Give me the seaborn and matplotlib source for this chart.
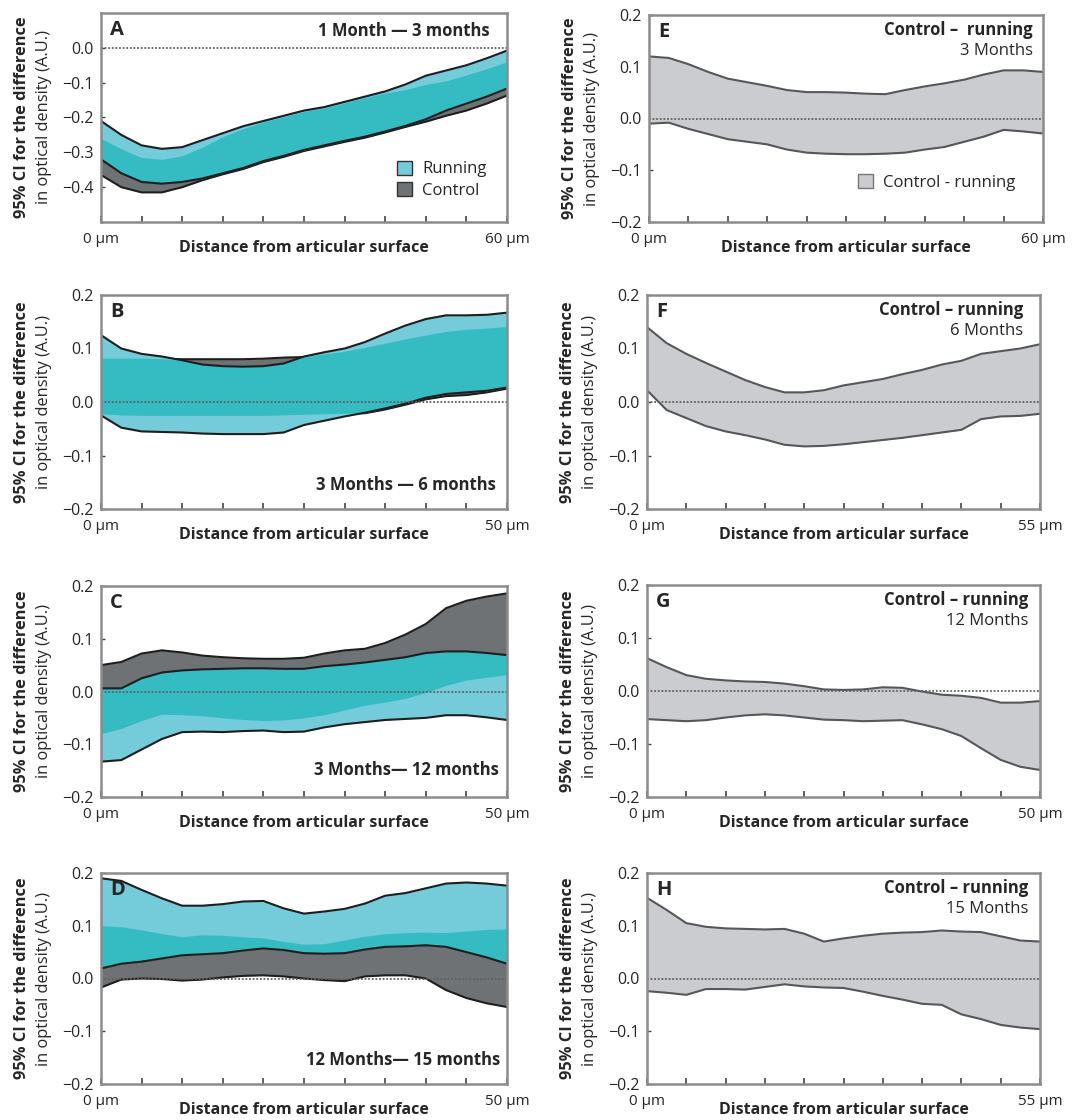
import numpy as np
import matplotlib.pyplot as plt
from matplotlib.patches import Patch
from matplotlib.transforms import offset_copy
import seaborn as sns

# 21 readings along each profile, from the articular surface (0) to the deepest point
n_pts = 21

# ---- Panels A-D: 95% CI bands, running vs control ----
depth_a, depth_b, depth_c, depth_d = 60, 50, 50, 50

run_hi_a = [-0.21, -0.25, -0.28, -0.29, -0.285, -0.265, -0.245, -0.225, -0.21, -0.195, -0.18,
            -0.17, -0.155, -0.14, -0.125, -0.105, -0.08, -0.065, -0.05, -0.03, -0.008]
run_lo_a = [-0.32, -0.36, -0.385, -0.39, -0.385, -0.375, -0.36, -0.345, -0.325, -0.31, -0.293,
            -0.28, -0.267, -0.255, -0.24, -0.224, -0.205, -0.18, -0.16, -0.14, -0.117]
ctl_hi_a = [-0.26, -0.29, -0.315, -0.32, -0.31, -0.285, -0.255, -0.232, -0.213, -0.198, -0.183,
            -0.173, -0.158, -0.143, -0.13, -0.12, -0.105, -0.095, -0.078, -0.06, -0.04]
ctl_lo_a = [-0.365, -0.40, -0.415, -0.415, -0.40, -0.38, -0.363, -0.348, -0.328, -0.313, -0.296,
            -0.283, -0.27, -0.258, -0.243, -0.227, -0.212, -0.195, -0.18, -0.16, -0.137]

run_hi_b = [0.125, 0.10, 0.09, 0.085, 0.078, 0.07, 0.067, 0.066, 0.067, 0.072, 0.085,
            0.093, 0.10, 0.112, 0.128, 0.143, 0.155, 0.162, 0.162, 0.163, 0.167]
run_lo_b = [-0.025, -0.048, -0.055, -0.056, -0.057, -0.059, -0.06, -0.06, -0.06, -0.057, -0.043,
            -0.035, -0.027, -0.02, -0.012, -0.003, 0.008, 0.015, 0.018, 0.021, 0.027]
ctl_hi_b = [0.082, 0.082, 0.082, 0.081, 0.080, 0.080, 0.080, 0.080, 0.081, 0.083, 0.084,
            0.090, 0.095, 0.102, 0.110, 0.118, 0.125, 0.132, 0.136, 0.138, 0.141]
ctl_lo_b = [-0.022, -0.024, -0.025, -0.025, -0.025, -0.025, -0.025, -0.025, -0.025, -0.024, -0.023,
            -0.022, -0.021, -0.021, -0.014, -0.005, 0.005, 0.011, 0.013, 0.018, 0.025]

run_hi_c = [0.006, 0.006, 0.025, 0.036, 0.040, 0.042, 0.043, 0.044, 0.044, 0.043, 0.043,
            0.048, 0.051, 0.055, 0.060, 0.065, 0.073, 0.076, 0.076, 0.073, 0.069]
run_lo_c = [-0.133, -0.13, -0.11, -0.09, -0.077, -0.076, -0.077, -0.075, -0.074, -0.077, -0.076,
            -0.068, -0.062, -0.058, -0.054, -0.052, -0.05, -0.045, -0.045, -0.049, -0.054]
ctl_hi_c = [0.05, 0.056, 0.072, 0.078, 0.074, 0.068, 0.065, 0.063, 0.062, 0.062, 0.064,
            0.072, 0.078, 0.081, 0.092, 0.108, 0.128, 0.158, 0.172, 0.180, 0.186]
ctl_lo_c = [-0.08, -0.07, -0.055, -0.043, -0.044, -0.046, -0.05, -0.053, -0.055, -0.054, -0.05,
            -0.044, -0.035, -0.026, -0.02, -0.013, -0.002, 0.012, 0.022, 0.027, 0.032]

run_hi_d = [0.19, 0.185, 0.168, 0.152, 0.138, 0.138, 0.141, 0.146, 0.147, 0.133, 0.123,
            0.127, 0.132, 0.142, 0.157, 0.162, 0.171, 0.18, 0.182, 0.18, 0.176]
run_lo_d = [0.019, 0.028, 0.032, 0.038, 0.044, 0.046, 0.048, 0.053, 0.057, 0.054, 0.048,
            0.047, 0.048, 0.055, 0.06, 0.061, 0.063, 0.06, 0.05, 0.04, 0.028]
ctl_hi_d = [0.10, 0.098, 0.092, 0.085, 0.079, 0.083, 0.082, 0.079, 0.077, 0.07, 0.065,
            0.066, 0.073, 0.08, 0.085, 0.087, 0.088, 0.087, 0.09, 0.093, 0.094]
ctl_lo_d = [-0.017, -0.002, 0.0, -0.001, -0.004, -0.002, 0.002, 0.005, 0.006, 0.004, 0.0,
            -0.003, -0.005, 0.004, 0.006, 0.006, 0.0, -0.022, -0.037, -0.047, -0.054]

# ---- Panels E-H: control - running, 95% CI ----
depth_e, depth_f, depth_g, depth_h = 60, 55, 50, 55

diff_hi_e = [0.12, 0.117, 0.105, 0.09, 0.077, 0.07, 0.063, 0.055, 0.051, 0.051, 0.05,
             0.048, 0.047, 0.055, 0.062, 0.068, 0.075, 0.085, 0.093, 0.093, 0.09]
diff_lo_e = [-0.01, -0.008, -0.02, -0.03, -0.04, -0.045, -0.05, -0.06, -0.066, -0.068, -0.069,
             -0.069, -0.068, -0.066, -0.06, -0.055, -0.045, -0.035, -0.022, -0.025, -0.029]

diff_hi_f = [0.14, 0.11, 0.09, 0.073, 0.057, 0.041, 0.028, 0.018, 0.018, 0.022, 0.031,
             0.037, 0.043, 0.052, 0.06, 0.07, 0.077, 0.09, 0.095, 0.10, 0.108]
diff_lo_f = [0.022, -0.015, -0.03, -0.045, -0.055, -0.062, -0.07, -0.08, -0.083, -0.082, -0.079,
             -0.075, -0.071, -0.067, -0.062, -0.057, -0.052, -0.032, -0.027, -0.026, -0.022]

diff_hi_g = [0.062, 0.045, 0.03, 0.023, 0.02, 0.018, 0.017, 0.014, 0.009, 0.003, 0.002,
             0.003, 0.007, 0.006, -0.001, -0.007, -0.009, -0.013, -0.022, -0.022, -0.019]
diff_lo_g = [-0.053, -0.055, -0.057, -0.055, -0.05, -0.046, -0.044, -0.046, -0.05, -0.054, -0.055,
             -0.057, -0.056, -0.055, -0.063, -0.072, -0.085, -0.108, -0.13, -0.143, -0.149]

diff_hi_h = [0.153, 0.13, 0.105, 0.098, 0.095, 0.094, 0.093, 0.094, 0.085, 0.07, 0.076,
             0.081, 0.085, 0.087, 0.088, 0.091, 0.089, 0.088, 0.08, 0.072, 0.07]
diff_lo_h = [-0.024, -0.027, -0.031, -0.02, -0.02, -0.021, -0.016, -0.011, -0.015, -0.017, -0.018,
             -0.025, -0.033, -0.04, -0.048, -0.05, -0.068, -0.077, -0.088, -0.093, -0.096]

CYAN = "#74cbd9"
TEAL = "#35bcc3"
DARK = "#6e7275"
LIGHT = "#cbcccf"
EDGE_BLACK = "#1e1e1e"
EDGE_GRAY = "#55585b"

sns.set_theme(style="white")
plt.rcParams["font.family"] = ["Open Sans", "DejaVu Sans"]

fig = plt.figure(figsize=(10.76, 11.2), dpi=100)
W, H = 1076, 1120


def make_axes(left, right, top, bottom):
    return fig.add_axes([left / W, 1 - bottom / H, (right - left) / W, (bottom - top) / H])


def shift(ax, dx, dy):
    return offset_copy(ax.transAxes, fig=fig, x=dx, y=dy, units="dots")


def draw_pair(ax, x, run_hi, run_lo, ctl_hi, ctl_lo):
    run_hi, run_lo = np.array(run_hi), np.array(run_lo)
    ctl_hi, ctl_lo = np.array(ctl_hi), np.array(ctl_lo)
    ax.fill_between(x, ctl_lo, ctl_hi, color=DARK, lw=0, zorder=1)
    sns.lineplot(x=x, y=ctl_hi, ax=ax, color=EDGE_BLACK, lw=1.5, zorder=2)
    sns.lineplot(x=x, y=ctl_lo, ax=ax, color=EDGE_BLACK, lw=1.5, zorder=2)
    # running band drawn over the control edges, overlap shown as teal
    ax.fill_between(x, run_lo, run_hi, color=CYAN, lw=0, zorder=3)
    lo = np.maximum(run_lo, ctl_lo)
    hi = np.minimum(run_hi, ctl_hi)
    ax.fill_between(x, lo, hi, where=hi > lo, interpolate=True, color=TEAL, lw=0, zorder=4)
    sns.lineplot(x=x, y=run_hi, ax=ax, color=EDGE_BLACK, lw=1.5, zorder=5)
    sns.lineplot(x=x, y=run_lo, ax=ax, color=EDGE_BLACK, lw=1.5, zorder=5)


def draw_diff(ax, x, hi, lo):
    ax.fill_between(x, lo, hi, color=LIGHT, lw=0, zorder=1)
    sns.lineplot(x=x, y=hi, ax=ax, color=EDGE_GRAY, lw=1.5, zorder=5)
    sns.lineplot(x=x, y=lo, ax=ax, color=EDGE_GRAY, lw=1.5, zorder=5)


def style_axes(ax, depth, ylim, yticks, letter):
    ax.axhline(0, color="#606060", ls=(0, (1, 1)), lw=1.3, zorder=6)
    ax.set_xlim(0, depth)
    ax.set_ylim(*ylim)
    ax.set_xticks([0, depth])
    ax.set_xticklabels(["0 \u00b5m", f"{depth} \u00b5m"])
    ax.set_xticks(np.linspace(0, depth, 11)[1:-1], minor=True)
    ax.tick_params(axis="x", which="both", direction="in", length=4, width=1.2,
                   color="#444444", pad=7, labelsize=11, bottom=True)
    ax.set_yticks(yticks)
    ax.set_yticklabels([f"{v:.1f}".replace("-", "\u2212") for v in yticks])
    ax.tick_params(axis="y", direction="in", length=3, width=1.0, color="#444444",
                   pad=5, labelsize=11.5, left=True)
    for sp in ax.spines.values():
        sp.set_color("#8c8c8c")
        sp.set_linewidth(1.8)
        sp.set_zorder(7)
    ax.set_xlabel("Distance from articular surface", fontweight="bold", fontsize=11.5, va="top")
    ax.xaxis.set_label_coords(0.5, -0.085)
    ax.set_ylabel("")
    ax.text(0, 0.5, "95% CI for the difference", transform=shift(ax, -79, 0),
            rotation=90, ha="center", va="center", fontsize=11.8, fontweight="bold")
    ax.text(0, 0.5, "in optical density (A.U.)", transform=shift(ax, -57, 0),
            rotation=90, ha="center", va="center", fontsize=11.8)
    ax.text(0, 1, letter, transform=shift(ax, 9, -7), ha="left", va="top",
            fontsize=14.5, fontweight="bold", zorder=8)


sym = [-0.2, -0.1, 0.0, 0.1, 0.2]

# left column
ax_a = make_axes(101, 507, 13, 222)
x_a = np.linspace(0, depth_a, n_pts)
draw_pair(ax_a, x_a, run_hi_a, run_lo_a, ctl_hi_a, ctl_lo_a)
style_axes(ax_a, depth_a, (-0.5, 0.1), [-0.4, -0.3, -0.2, -0.1, 0.0], "A")
ax_a.text(1, 1, "1 Month \u2014 3 months", transform=shift(ax_a, -17, -9), ha="right", va="top",
          fontsize=12, fontweight="bold")
ax_a.legend(handles=[Patch(facecolor=CYAN, edgecolor="#333333", label="Running"),
                     Patch(facecolor=DARK, edgecolor="#333333", label="Control")],
            loc="lower right", bbox_to_anchor=(0.97, 0.07), frameon=False, fontsize=12,
            handlelength=0.9, handleheight=0.9, handletextpad=0.6, labelspacing=0.3, borderpad=0)

ax_b = make_axes(101, 507, 295, 509)
x_b = np.linspace(0, depth_b, n_pts)
draw_pair(ax_b, x_b, run_hi_b, run_lo_b, ctl_hi_b, ctl_lo_b)
style_axes(ax_b, depth_b, (-0.2, 0.2), sym, "B")
ax_b.text(1, 0, "3 Months \u2014 6 months", transform=shift(ax_b, -11, 15), ha="right", va="bottom",
          fontsize=12, fontweight="bold")

ax_c = make_axes(101, 507, 586, 797)
x_c = np.linspace(0, depth_c, n_pts)
draw_pair(ax_c, x_c, run_hi_c, run_lo_c, ctl_hi_c, ctl_lo_c)
style_axes(ax_c, depth_c, (-0.2, 0.2), sym, "C")
ax_c.text(1, 0, "3 Months\u2014 12 months", transform=shift(ax_c, -8, 18), ha="right", va="bottom",
          fontsize=12, fontweight="bold")

ax_d = make_axes(101, 507, 873, 1084)
x_d = np.linspace(0, depth_d, n_pts)
draw_pair(ax_d, x_d, run_hi_d, run_lo_d, ctl_hi_d, ctl_lo_d)
style_axes(ax_d, depth_d, (-0.2, 0.2), sym, "D")
ax_d.text(1, 0, "12 Months\u2014 15 months", transform=shift(ax_d, -7, 15), ha="right", va="bottom",
          fontsize=12, fontweight="bold")

# right column
right_panels = [
    ((649, 1043, 15, 222), depth_e, diff_hi_e, diff_lo_e, "E", "Control \u2013  running", "3 Months", -10),
    ((647, 1040, 295, 509), depth_f, diff_hi_f, diff_lo_f, "F", "Control \u2013 running", "6 Months", -17),
    ((647, 1040, 585, 797), depth_g, diff_hi_g, diff_lo_g, "G", "Control \u2013 running", "12 Months", -12),
    ((647, 1040, 873, 1084), depth_h, diff_hi_h, diff_lo_h, "H", "Control \u2013 running", "15 Months", -12),
]
for box, depth, hi, lo, letter, head, sub, dx in right_panels:
    ax = make_axes(*box)
    x = np.linspace(0, depth, n_pts)
    draw_diff(ax, x, hi, lo)
    style_axes(ax, depth, (-0.2, 0.2), sym, letter)
    ax.text(1, 1, head, transform=shift(ax, dx, -6), ha="right", va="top",
            fontsize=12, fontweight="bold")
    ax.text(1, 1, sub, transform=shift(ax, dx, -28), ha="right", va="top", fontsize=12)
    if letter == "E":
        ax.legend(handles=[Patch(facecolor=LIGHT, edgecolor="#777777", label="Control - running")],
                  loc="lower right", bbox_to_anchor=(0.95, 0.11), frameon=False, fontsize=12,
                  handlelength=0.9, handleheight=0.9, handletextpad=0.6, borderpad=0)

fig.savefig("out.png", dpi=100)
